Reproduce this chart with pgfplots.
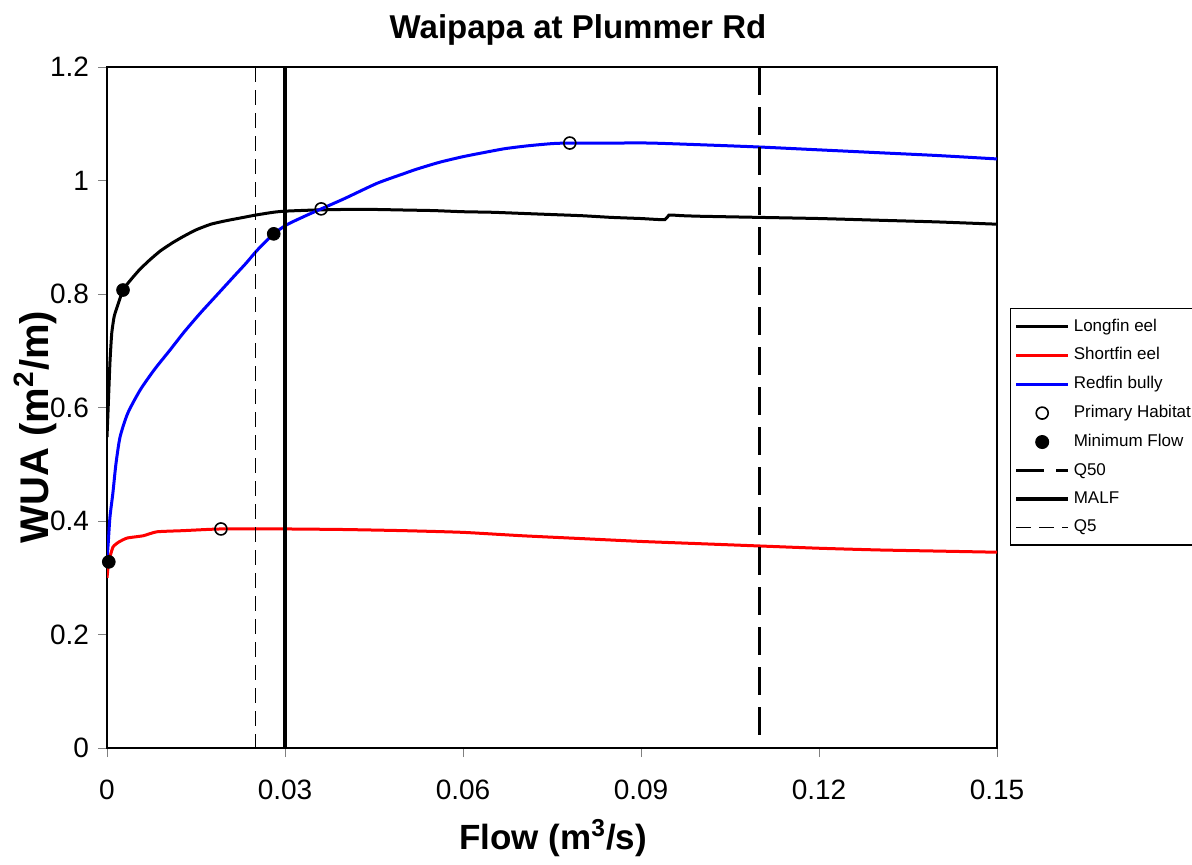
\documentclass[border=0pt]{standalone}
\usepackage{pgfplots}
\pgfplotsset{compat=1.18}
\usepackage{fontspec}
\setmainfont{Liberation Sans}
\begin{document}
\begin{tikzpicture}
\path[use as bounding box] (-53.5pt,-58pt) rectangle (542.5pt,374pt);
\begin{axis}[
  at={(0pt,0pt)}, anchor=south west,
  scale only axis, width=445pt, height=340.5pt,
  xmin=0, xmax=0.15, ymin=0, ymax=1.2,
  xtick={0,0.03,0.06,0.09,0.12,0.15},
  ytick={0,0.2,0.4,0.6,0.8,1,1.2},
  scaled x ticks=false, scaled y ticks=false,
  xticklabel style={/pgf/number format/fixed,/pgf/number format/precision=2, yshift=-8pt},
  yticklabel style={xshift=-1pt},
  /pgf/number format/assume math mode=true,
  tick label style={font=\fontsize{14}{17}\selectfont},
  tick align=outside, major tick length=4.5pt,
  xtick pos=bottom, ytick pos=left,
  axis line style={line width=0.9pt},
  clip=true,
  legend image code/.code={\draw[mark repeat=2,mark phase=2,#1] plot coordinates {(0pt,0pt) (13pt,0pt) (26pt,0pt)};},
  legend style={at={(1.0146,0.646)}, anchor=north west, draw=black, line width=0.6pt,
    font=\fontsize{8.5}{10}\selectfont, inner xsep=2pt, inner ysep=3pt,
    row sep=2.8pt, legend cell align=left},
]
\addplot[black, line width=1.5pt, smooth, tension=0.3] coordinates {
(0,0.548)(0.0002,0.60)(0.0005,0.68)(0.0008,0.731)(0.0012,0.760)(0.0017,0.777)(0.0027,0.807)(0.004,0.825)(0.0055,0.843)(0.0072,0.860)(0.009,0.876)(0.011,0.890)(0.0128,0.901)(0.015,0.913)(0.0175,0.923)(0.02,0.929)(0.0225,0.934)(0.025,0.939)(0.028,0.944)(0.03,0.946)(0.035,0.948)(0.04,0.949)(0.045,0.949)(0.05,0.948)(0.055,0.947)(0.06,0.945)(0.065,0.944)(0.07,0.942)(0.075,0.940)(0.08,0.938)(0.085,0.935)(0.09,0.933)(0.094,0.931)(0.0947,0.939)(0.097,0.938)(0.1,0.937)(0.11,0.935)(0.12,0.933)(0.13,0.930)(0.14,0.927)(0.15,0.923)};
\addlegendentry{Longfin eel}
\addplot[red, line width=1.5pt, smooth, tension=0.3] coordinates {
(0,0.30)(0.0003,0.328)(0.001,0.354)(0.002,0.363)(0.0034,0.370)(0.0061,0.374)(0.0084,0.381)(0.0128,0.383)(0.0192,0.386)(0.03,0.386)(0.04,0.385)(0.05,0.383)(0.06,0.380)(0.07,0.374)(0.08,0.369)(0.09,0.364)(0.1,0.360)(0.11,0.356)(0.12,0.352)(0.13,0.349)(0.14,0.347)(0.15,0.345)};
\addlegendentry{Shortfin eel}
\addplot[blue, line width=1.5pt, smooth, tension=0.4] coordinates {
(0,0.331)(0.0002,0.36)(0.0005,0.407)(0.001,0.45)(0.0015,0.50)(0.0022,0.548)(0.0035,0.59)(0.0056,0.631)(0.008,0.667)(0.0106,0.701)(0.013,0.733)(0.0157,0.766)(0.0185,0.798)(0.0213,0.830)(0.0235,0.855)(0.0253,0.877)(0.0281,0.906)(0.0303,0.922)(0.0333,0.937)(0.0361,0.950)(0.04,0.968)(0.0455,0.995)(0.05,1.012)(0.0522,1.020)(0.056,1.032)(0.06,1.042)(0.0634,1.049)(0.067,1.056)(0.0708,1.061)(0.075,1.065)(0.078,1.066)(0.085,1.066)(0.0915,1.066)(0.1,1.063)(0.11,1.059)(0.12,1.054)(0.13,1.049)(0.14,1.044)(0.15,1.038)};
\addlegendentry{Redfin bully}
\addplot[only marks, mark=o, mark size=3pt, black, line width=0.8pt] coordinates {
(0.0192,0.386)(0.0361,0.950)(0.078,1.066)};
\addlegendentry{Primary Habitat}
\addplot[only marks, mark=*, mark size=3.2pt, black] coordinates {
(0.0003,0.328)(0.0027,0.807)(0.0281,0.906)};
\addlegendentry{Minimum Flow}
\addplot[black, line width=1.6pt, dash pattern=on 14pt off 6pt] coordinates {(0.11,1.2)(0.11,0)};
\addlegendentry{Q50}
\addplot[black, line width=1.6pt] coordinates {(0.03,1.2)(0.03,0)};
\addlegendentry{MALF}
\addplot[black, line width=0.8pt, dash pattern=on 7.5pt off 4pt] coordinates {(0.025,1.2)(0.025,0)};
\addlegendentry{Q5}
\end{axis}
\node[font=\bfseries\fontsize{16.5}{19}\selectfont] at (235.5pt,359pt) {Waipapa at Plummer Rd};
\node[font=\bfseries\fontsize{17.5}{20}\selectfont] at (223pt,-45pt) {Flow (m\textsuperscript{3}/s)};
\node[font=\bfseries\fontsize{20}{24}\selectfont, rotate=90] at (-36pt,160.5pt) {WUA (m\textsuperscript{2}/m)};
\end{tikzpicture}
\end{document}
